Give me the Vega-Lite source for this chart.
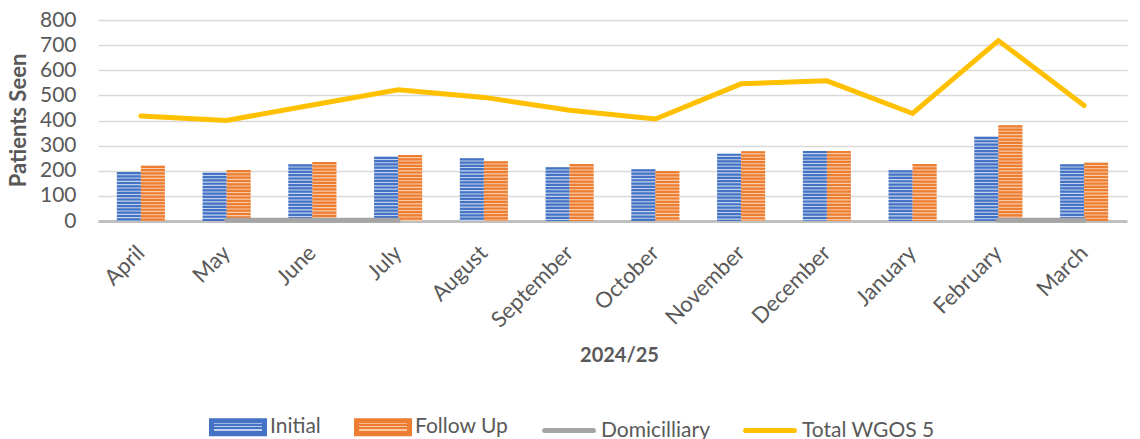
{
  "$schema": "https://vega.github.io/schema/vega-lite/v6.json",
  "width": 1029,
  "height": 201,
  "autosize": {"type": "none"},
  "padding": {"left": 98, "top": 20, "right": 13, "bottom": 218},
  "background": "white",
  "config": {
    "font": "Lato",
    "view": {"stroke": null},
    "axis": {"labelFont": "Lato", "titleFont": "Lato", "labelColor": "#595959", "titleColor": "#595959"}
  },
  "data": {
    "values": [
      {"month": "April", "Initial": 195, "Follow Up": 220, "Domicilliary": null, "Total WGOS 5": 418},
      {"month": "May", "Initial": 192, "Follow Up": 203, "Domicilliary": 3, "Total WGOS 5": 400},
      {"month": "June", "Initial": 226, "Follow Up": 235, "Domicilliary": 3, "Total WGOS 5": 462},
      {"month": "July", "Initial": 256, "Follow Up": 263, "Domicilliary": 3, "Total WGOS 5": 522},
      {"month": "August", "Initial": 250, "Follow Up": 238, "Domicilliary": null, "Total WGOS 5": 492},
      {"month": "September", "Initial": 214, "Follow Up": 227, "Domicilliary": null, "Total WGOS 5": 441},
      {"month": "October", "Initial": 206, "Follow Up": 199, "Domicilliary": null, "Total WGOS 5": 406},
      {"month": "November", "Initial": 268, "Follow Up": 278, "Domicilliary": null, "Total WGOS 5": 546},
      {"month": "December", "Initial": 279, "Follow Up": 279, "Domicilliary": null, "Total WGOS 5": 558},
      {"month": "January", "Initial": 202, "Follow Up": 227, "Domicilliary": null, "Total WGOS 5": 428},
      {"month": "February", "Initial": 335, "Follow Up": 381, "Domicilliary": 3, "Total WGOS 5": 718},
      {"month": "March", "Initial": 226, "Follow Up": 232, "Domicilliary": 3, "Total WGOS 5": 460}
    ]
  },
  "encoding": {
    "x": {
      "field": "month", "type": "nominal",
      "sort": ["April","May","June","July","August","September","October","November","December","January","February","March"],
      "scale": {"paddingInner": 0.44, "paddingOuter": 0.22},
      "axis": {
        "title": "2024/25", "titleFontSize": 20, "titleFontWeight": "bold",
        "titleX": 521, "titleY": 134, "titleBaseline": "middle", "titleAlign": "center",
        "labelAngle": -45, "labelAlign": "right", "labelBaseline": "middle", "labelPadding": 28,
        "labelFontSize": 22, "ticks": false, "labelOverlap": false,
        "domainColor": "#BFBFBF", "domainWidth": 3
      }
    },
    "y": {
      "field": "value", "type": "quantitative",
      "scale": {"domain": [0, 800], "nice": false},
      "axis": {
        "title": "Patients Seen", "titleFontSize": 22, "titleFontWeight": "bold",
        "titleX": -80, "titleY": 100, "titleAngle": -90, "titleBaseline": "middle", "titleAlign": "center",
        "values": [0,100,200,300,400,500,600,700,800], "labelOverlap": false,
        "labelFontSize": 21, "labelPadding": 22, "ticks": false, "domain": false,
        "gridColor": "#D9D9D9", "gridWidth": 1.5
      }
    }
  },
  "layer": [
    {
      "transform": [{"fold": ["Initial", "Follow Up"], "as": ["series", "value"]}],
      "mark": {"type": "bar"},
      "encoding": {
        "xOffset": {"field": "series", "type": "nominal", "sort": ["Initial", "Follow Up"]},
        "fill": {"condition": {"test": "datum.series === 'Initial'", "value": "#c3d2ec"}, "value": "#f8cba9"}
      }
    },
    {
      "transform": [{"fold": ["Initial", "Follow Up"], "as": ["series", "value"]}],
      "mark": {"type": "rule", "strokeWidth": 24, "strokeDash": [2.2, 1.1], "strokeCap": "butt"},
      "encoding": {
        "xOffset": {"field": "series", "type": "nominal", "sort": ["Initial", "Follow Up"]},
        "y2": {"datum": 0},
        "color": {
          "field": "series", "type": "nominal",
          "scale": {"domain": ["Initial", "Follow Up", "Domicilliary", "Total WGOS 5"], "range": ["#4472C4", "#ED7D31", "#A5A5A5", "#FFC000"]},
          "legend": {
            "title": null, "orient": "none", "direction": "horizontal", "legendX": 111, "legendY": 378,
            "padding": 0, "columnPadding": 25, "labelOffset": 3, "labelFont": "Lato", "labelFontSize": 21, "labelColor": "#595959",
            "labelBaseline": "middle",
            "symbolSize": 2809, "labelLimit": 300,
            "encode": {"symbols": {"update": {
              "shape": [{"test": "datum.value === 'Initial' || datum.value === 'Follow Up'", "value": "M-1,-0.245H1V0.245H-1Z"}, {"value": "M-0.92,0H0.92"}],
              "fill": [
                {"test": "datum.value === 'Initial'", "value": {"gradient": "linear", "x1": 0, "y1": 0, "x2": 0, "y2": 1, "stops": [
                  {"offset": 0, "color": "#4472C4"}, {"offset": 0.16, "color": "#4472C4"}, {"offset": 0.16, "color": "#c3d2ec"}, {"offset": 0.25, "color": "#c3d2ec"},
                  {"offset": 0.25, "color": "#4472C4"}, {"offset": 0.41, "color": "#4472C4"}, {"offset": 0.41, "color": "#c3d2ec"}, {"offset": 0.5, "color": "#c3d2ec"},
                  {"offset": 0.5, "color": "#4472C4"}, {"offset": 0.66, "color": "#4472C4"}, {"offset": 0.66, "color": "#c3d2ec"}, {"offset": 0.75, "color": "#c3d2ec"},
                  {"offset": 0.75, "color": "#4472C4"}, {"offset": 0.91, "color": "#4472C4"}, {"offset": 0.91, "color": "#c3d2ec"}, {"offset": 1, "color": "#c3d2ec"}]}},
                {"test": "datum.value === 'Follow Up'", "value": {"gradient": "linear", "x1": 0, "y1": 0, "x2": 0, "y2": 1, "stops": [
                  {"offset": 0, "color": "#ED7D31"}, {"offset": 0.16, "color": "#ED7D31"}, {"offset": 0.16, "color": "#f8cba9"}, {"offset": 0.25, "color": "#f8cba9"},
                  {"offset": 0.25, "color": "#ED7D31"}, {"offset": 0.41, "color": "#ED7D31"}, {"offset": 0.41, "color": "#f8cba9"}, {"offset": 0.5, "color": "#f8cba9"},
                  {"offset": 0.5, "color": "#ED7D31"}, {"offset": 0.66, "color": "#ED7D31"}, {"offset": 0.66, "color": "#f8cba9"}, {"offset": 0.75, "color": "#f8cba9"},
                  {"offset": 0.75, "color": "#ED7D31"}, {"offset": 0.91, "color": "#ED7D31"}, {"offset": 0.91, "color": "#f8cba9"}, {"offset": 1, "color": "#f8cba9"}]}},
                {"value": "transparent"}
              ],
              "stroke": [
                {"test": "datum.value === 'Domicilliary'", "value": "#A5A5A5"},
                {"test": "datum.value === 'Total WGOS 5'", "value": "#FFC000"},
                {"value": "transparent"}
              ],
              "strokeWidth": {"value": 5},
              "strokeCap": {"value": "round"},
              "size": {"value": 2809},
              "opacity": {"value": 1}
            }}}
          }
        }
      }
    },
    {
      "transform": [{"fold": ["Domicilliary", "Total WGOS 5"], "as": ["series", "value"]}],
      "mark": {"type": "line", "strokeWidth": 5, "strokeCap": "round", "strokeJoin": "miter"},
      "encoding": {
        "color": {
          "field": "series", "type": "nominal",
          "scale": {"domain": ["Initial", "Follow Up", "Domicilliary", "Total WGOS 5"], "range": ["#4472C4", "#ED7D31", "#A5A5A5", "#FFC000"]}
        }
      }
    }
  ]
}
